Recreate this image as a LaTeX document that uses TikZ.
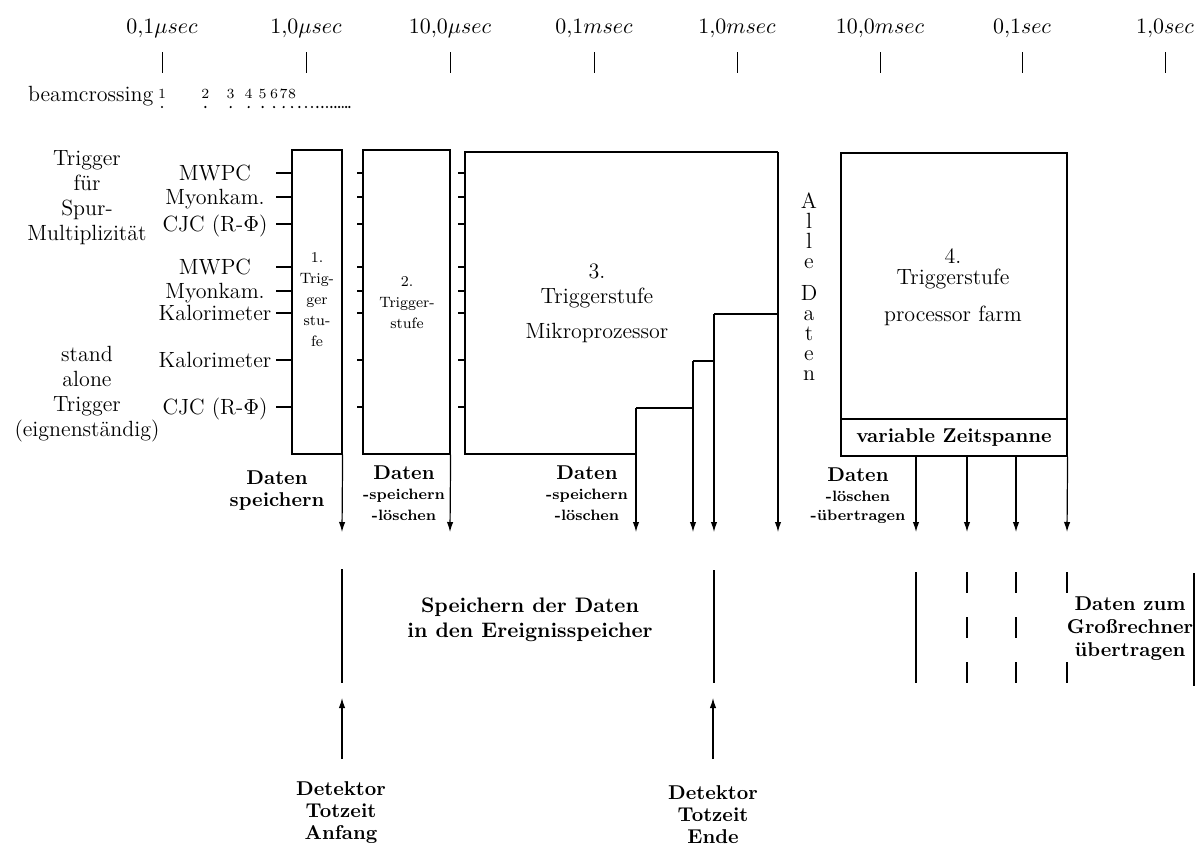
\documentclass[tikz,border=0pt]{standalone}
\usepackage{fontspec}
\usetikzlibrary{arrows.meta,fit}
\tikzset{
  every node/.style={inner sep=0pt},
  rg/.style={font=\fontsize{11}{12.5}\selectfont, align=center},
  ax/.style={font=\fontsize{11}{12}\selectfont, anchor=base},
  bd/.style={font=\bfseries\fontsize{10}{11}\selectfont, align=center},
  smsp/.style={font=\bfseries\fontsize{7.5}{9}\selectfont\addfontfeature{LetterSpace=14}},
  boxtxt/.style={font=\fontsize{7.5}{10.5}\selectfont\addfontfeature{LetterSpace=8}, align=center},
  stage/.style={draw, line width=0.6pt},
  arr/.style={-{Latex[length=5pt,width=3.2pt]}, line width=0.6pt},
}
\begin{document}
\begin{tikzpicture}[x=0.5pt,y=-0.5pt,line width=0.6pt]
\useasboundingbox (0,0) rectangle (1200,848);

% ---- time axis
\node[ax] (a1) at (162,33) {$0{,}1\mu sec$};
\node[ax] (a2) at (306,33) {$1{,}0\mu sec$};
\node[ax] (a3) at (450,33) {$10{,}0\mu sec$};
\node[ax] (a4) at (594,33) {$0{,}1msec$};
\node[ax] (a5) at (737,33) {$1{,}0msec$};
\node[ax] (a6) at (880,33) {$10{,}0msec$};
\node[ax] (a7) at (1022,33) {$0{,}1sec$};
\node[ax] (a8) at (1165,33) {$1{,}0sec$};
\foreach \x in {162,306,450,594,737,880,1022,1165}
  \draw[line width=0.5pt] (\x,52) -- (\x,73);

% ---- beam crossings
\node[font=\fontsize{11}{12}\selectfont, anchor=base east] (bc) at (154,101) {beamcrossing};
\foreach \n in {1,...,8}
  \node[font=\fontsize{7}{8}\selectfont, anchor=base] (bc\n) at ({162+144*ln(\n)/ln(10)},98) {\n};
\foreach \n in {1,...,20}
  \fill ({162+144*ln(\n)/ln(10)},107) circle (0.6pt);

% ---- left labels
\node[rg] (grpA) at (87,198) {Trigger\\für\\Spur-\\Multiplizität};
\node[rg] (grpB) at (87,394) {stand\\alone\\Trigger\\(eignenständig)};
\node[rg, anchor=base] (l1) at (215,180) {MWPC};
\node[rg, anchor=base] (l2) at (215,204) {Myonkam.};
\node[rg, anchor=base] (l3) at (215,231) {CJC (R-$\Phi$)};
\node[rg, anchor=base] (l4) at (215,274) {MWPC};
\node[rg, anchor=base] (l5) at (215,298) {Myonkam.};
\node[rg, anchor=base] (l6) at (215,320) {Kalorimeter};
\node[rg, anchor=base] (l7) at (215,367) {Kalorimeter};
\node[rg, anchor=base] (l8) at (215,414) {CJC (R-$\Phi$)};
\foreach \y in {173,197,224,267,291,313,360,407} {
  \draw (276,\y) -- (292,\y);
  \draw (357,\y) -- (363,\y);
  \draw (458,\y) -- (465,\y);
}

% ---- stage 1 and 2
\node[stage, fit={(292,150) (342,454)}] (b1) {};
\node[boxtxt] (t1) at (317,300) {1.\\Trig-\\ger\\stu-\\fe};
\node[stage, fit={(363,150) (450,454)}] (b2) {};
\node[boxtxt] (t2) at (407,303) {2.\\Trigger-\\stufe};

% ---- stage 3
\coordinate (c3tl) at (465,152);
\coordinate (c3tr) at (778,152);
\coordinate (c3bl) at (465,454);
\coordinate (c3s1) at (636,454);
\coordinate (c3s1t) at (636,408);
\coordinate (c3s2) at (693,408);
\coordinate (c3s2t) at (693,361);
\coordinate (c3s3) at (714,361);
\coordinate (c3s3t) at (714,314);
\coordinate (c3r) at (778,314);
\draw (c3s1) -- (c3bl) -- (c3tl) -- (c3tr);
\draw (c3s1t) -- (c3s2);
\draw (c3s2t) -- (c3s3);
\draw (c3s3t) -- (c3r);
\node[rg] (t3) at (597,303) {3.\\Triggerstufe\\[5pt]Mikroprozessor};

% ---- Alle Daten
\node[font=\fontsize{11}{10}\selectfont, align=center] (alle) at (809,287) {A\\l\\l\\e\\[6pt]D\\a\\t\\e\\n};

% ---- stage 4
\node[stage, fit={(841,153) (1067,419)}] (b4) {};
\node[stage, fit={(841,419) (1067,456)}] (b4z) {};
\node[font=\fontsize{11}{10.5}\selectfont, align=center] (t4) at (953,287) {4.\\Triggerstufe\\[8pt]processor farm};
\node[bd] (vz) at (b4z.center) {variable Zeitspanne};

% ---- downward arrows
\coordinate (e1) at (342,532);
\coordinate (e2) at (450,532);
\coordinate (e3) at (636,532);
\coordinate (e4) at (693,532);
\coordinate (e5) at (714,532);
\coordinate (e6) at (778,532);
\coordinate (s9) at (916,456);
\coordinate (s10) at (967,456);
\coordinate (s11) at (1016,456);
\coordinate (e9) at (916,532);
\coordinate (e10) at (967,532);
\coordinate (e11) at (1016,532);
\coordinate (e12) at (1067,532);
\draw[arr] (b1.south east) -- (e1);
\draw[arr] (b2.south east) -- (e2);
\draw[arr] (c3s1t) -- (e3);
\draw[arr] (c3s2t) -- (e4);
\draw[arr] (c3s3t) -- (e5);
\draw[arr] (c3tr) -- (e6);
\draw[arr] (s9) -- (e9);
\draw[arr] (s10) -- (e10);
\draw[arr] (s11) -- (e11);
\draw[arr] (b4z.south east) -- (e12);

% ---- Daten labels
\node[bd] (d1) at (277,491) {Daten\\speichern};
\node[bd, anchor=base] (d2a) at (404,479) {Daten};
\node[smsp, anchor=base] (d2b) at (404,499) {-speichern};
\node[smsp, anchor=base] (d2c) at (404,520) {-löschen};
\node[bd, anchor=base] (d3a) at (587,479) {Daten};
\node[smsp, anchor=base] (d3b) at (587,499) {-speichern};
\node[smsp, anchor=base] (d3c) at (587,520) {-löschen};
\node[bd, anchor=base] (d4a) at (858,481) {Daten};
\node[smsp, anchor=base] (d4b) at (858,501) {-löschen};
\node[smsp, anchor=base] (d4c) at (858,520) {-übertragen};

% ---- lower section
\draw (342,569) -- (342,683);
\draw (714,570) -- (714,683);
\draw (916,572) -- (916,683);
\draw (1194,573) -- (1194,686);
\foreach \x in {967,1016}
  \draw (\x,572) -- (\x,593) (\x,617) -- (\x,638) (\x,662) -- (\x,683);
\draw (1067,572) -- (1067,593) (1067,662) -- (1067,683);
\node[font=\bfseries\fontsize{10.5}{12.5}\selectfont, align=center] (sp) at (530,620) {Speichern der Daten\\in den Ereignisspeicher};
\node[font=\bfseries\fontsize{10}{11.5}\selectfont, align=center] (gr) at (1130,629) {Daten zum\\Großrechner\\übertragen};

% ---- detector dead time
\node[bd] (det1) at (341,813) {Detektor\\Totzeit\\Anfang};
\node[bd] (det2) at (713,815) {Detektor\\Totzeit\\Ende};
\coordinate (u1) at (342,759);
\coordinate (u1t) at (342,698);
\coordinate (u2) at (713,759);
\coordinate (u2t) at (713,698);
\draw[arr] (u1) -- (u1t);
\draw[arr] (u2) -- (u2t);
\end{tikzpicture}
\end{document}
